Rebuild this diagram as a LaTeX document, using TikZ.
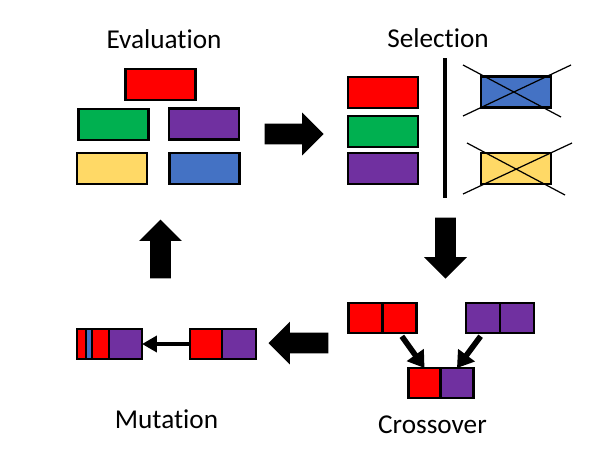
\documentclass[tikz,border=0pt]{standalone}
\usepackage{fontspec}
\setmainfont{Carlito}[Ligatures=NoCommon]
\usepackage{xcolor}
\usepackage{tikz}
\usetikzlibrary{positioning,shapes.arrows,arrows.meta}

\definecolor{geneRed}{HTML}{FF0000}
\definecolor{geneGreen}{HTML}{00B050}
\definecolor{genePurple}{HTML}{7030A0}
\definecolor{geneYellow}{HTML}{FFD966}
\definecolor{geneBlue}{HTML}{4472C4}

\begin{document}
\begin{tikzpicture}[
  x=0.02cm, y=-0.02cm,
  gene/.style={draw=black, line width=1.2pt, outer sep=0pt, inner sep=0pt, minimum width=1.4cm, minimum height=0.62cm},
  half/.style={gene, minimum width=0.68cm, minimum height=0.6cm},
  stagetitle/.style={font=\fontsize{15.5}{18}\selectfont, anchor=base, inner sep=0pt},
  bigarrow/.style={single arrow, fill=black, draw=none, inner xsep=0pt, inner ysep=0.2cm, minimum height=1.18cm, single arrow head extend=0.22cm, anchor=tip},
  thinarrow/.style={line width=2.2pt, -{Triangle[length=0.3cm, width=0.32cm]}},
  crossarrow/.style={line width=3.2pt, -{Triangle[length=0.32cm, width=0.4cm]}},
  cross/.style={line width=0.7pt}
]
\useasboundingbox (0,0) rectangle (601,474);

% evaluation
\node[stagetitle] (evalt) at (164,48) {Evaluation};
\node[gene, fill=geneRed] (e1) at (160.5,84.5) {};
\node[gene, fill=geneGreen] (e2) at (113.5,124.5) {};
\node[gene, fill=genePurple] (e3) at (204,124) {};
\node[gene, fill=geneYellow] (e4) at (112,168.5) {};
\node[gene, fill=geneBlue] (e5) at (204.5,168.5) {};

% selection
\node[stagetitle] (selt) at (438,47) {Selection};
\node[gene, fill=geneRed] (s1) at (383,92.5) {};
\node[gene, fill=geneGreen] (s2) at (383,131.5) {};
\node[gene, fill=genePurple] (s3) at (383,168.5) {};
\draw[line width=2.3pt] (445,58) -- (445,198);
\node[gene, fill=geneBlue] (sb) at (516,92) {};
\node[gene, fill=geneYellow] (sy) at (516,168.5) {};
\draw[cross] ([shift={(-53,-27)}]sb.center) -- ([shift={(45,25)}]sb.center);
\draw[cross] ([shift={(55,-27)}]sb.center) -- ([shift={(-53,24)}]sb.center);
\draw[cross] ([shift={(-49,-25.5)}]sy.center) -- ([shift={(49,26.5)}]sy.center);
\draw[cross] ([shift={(56,-25.5)}]sy.center) -- ([shift={(-53,25.5)}]sy.center);

% crossover
\node[half, fill=geneRed] (cl1) at (365.5,318) {};
\node[half, fill=geneRed, right=0pt of cl1] (cl2) {};
\node[half, fill=genePurple] (cr1) at (483,318) {};
\node[half, fill=genePurple, right=0pt of cr1] (cr2) {};
\node[half, fill=geneRed, minimum width=0.64cm] (cb1) at (424.5,383) {};
\node[half, fill=genePurple, minimum width=0.66cm, right=0pt of cb1] (cb2) {};
\node[stagetitle] (crosst) at (432.5,433) {Crossover};
\draw[crossarrow, shorten <=2.3pt] (cl2.south) -- (cb1.north);
\draw[crossarrow, shorten <=2.3pt] (cr1.south) -- (cb2.north);

% mutation
\node[half, fill=geneRed, minimum width=0.64cm] (mr1) at (206,344) {};
\node[half, fill=genePurple, right=0pt of mr1] (mr2) {};
\node[half, fill=geneRed, minimum width=0.18cm] (m1) at (81.5,344) {};
\node[half, fill=geneBlue, minimum width=0.12cm, right=0pt of m1] (m2) {};
\node[half, fill=geneRed, minimum width=0.34cm, right=0pt of m2] (m3) {};
\node[half, fill=genePurple, minimum width=0.66cm, right=0pt of m3] (m4) {};
\draw[thinarrow] (mr1.west) -- (m4.east);
\node[stagetitle] (mutt) at (166.5,428) {Mutation};

% stage arrows
\node[bigarrow] (a1) at (324,134) {};
\node[bigarrow, rotate=-90, minimum height=1.22cm] (a2) at (445.5,279) {};
\node[bigarrow, rotate=180, minimum height=1.2cm] (a3) at (268,343) {};
\node[bigarrow, rotate=90] (a4) at (160.5,219) {};
\end{tikzpicture}
\end{document}
